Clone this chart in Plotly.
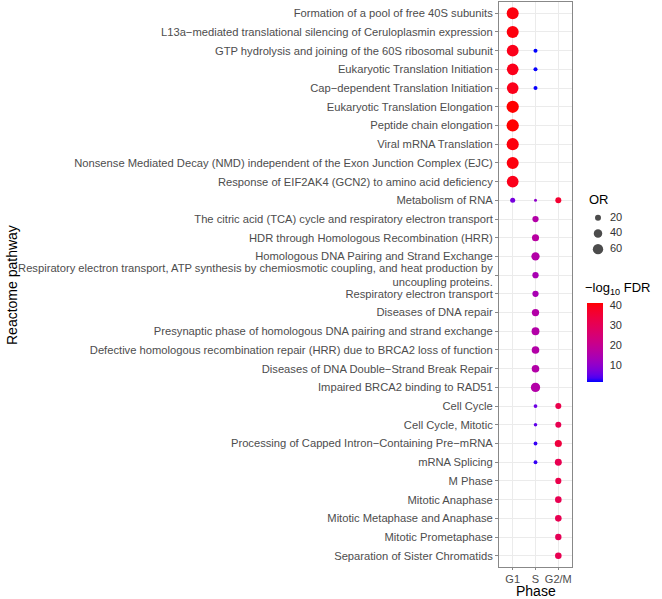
import numpy as np
import plotly.graph_objects as go

# ---------------- data ----------------
pathways = [
    "Formation of a pool of free 40S subunits",
    "L13a−mediated translational silencing of Ceruloplasmin expression",
    "GTP hydrolysis and joining of the 60S ribosomal subunit",
    "Eukaryotic Translation Initiation",
    "Cap−dependent Translation Initiation",
    "Eukaryotic Translation Elongation",
    "Peptide chain elongation",
    "Viral mRNA Translation",
    "Nonsense Mediated Decay (NMD) independent of the Exon Junction Complex (EJC)",
    "Response of EIF2AK4 (GCN2) to amino acid deficiency",
    "Metabolism of RNA",
    "The citric acid (TCA) cycle and respiratory electron transport",
    "HDR through Homologous Recombination (HRR)",
    "Homologous DNA Pairing and Strand Exchange",
    "Respiratory electron transport, ATP synthesis by chemiosmotic coupling, and heat production by<br>uncoupling proteins.",
    "Respiratory electron transport",
    "Diseases of DNA repair",
    "Presynaptic phase of homologous DNA pairing and strand exchange",
    "Defective homologous recombination repair (HRR) due to BRCA2 loss of function",
    "Diseases of DNA Double−Strand Break Repair",
    "Impaired BRCA2 binding to RAD51",
    "Cell Cycle",
    "Cell Cycle, Mitotic",
    "Processing of Capped Intron−Containing Pre−mRNA",
    "mRNA Splicing",
    "M Phase",
    "Mitotic Anaphase",
    "Mitotic Metaphase and Anaphase",
    "Mitotic Prometaphase",
    "Separation of Sister Chromatids",
]
phases = ["G1", "S", "G2/M"]

# one entry per dot
pt_pathway = [0, 1, 2, 3, 4, 5, 6, 7, 8, 9,
              2, 3, 4,
              10, 10, 10,
              11, 12, 13, 14, 15, 16, 17, 18, 19, 20,
              21, 22, 23, 24,
              21, 22, 23, 24,
              25, 26, 27, 28, 29]
pt_phase = ["G1"] * 10 + ["S"] * 3 + ["G1", "S", "G2/M"] + ["S"] * 10 + ["S"] * 4 + ["G2/M"] * 4 + ["G2/M"] * 5
pt_or = [80, 80, 78, 76, 76, 84, 84, 82, 80, 77,
         9, 9, 9,
         14, 5, 20,
         22, 28, 38, 22, 22, 30, 34, 32, 32, 48,
         8, 7, 8, 8,
         20, 20, 28, 27,
         21, 24, 24, 23, 24]
pt_fdr = [40, 40, 39, 39, 39, 41, 41, 40, 40, 39,
          1.6, 1.8, 1.8,
          7, 10, 36,
          16, 17, 16, 14, 14, 16, 16, 16, 16, 16,
          6, 5, 3, 3,
          32, 31, 34, 31,
          32, 31, 31, 30, 31]

or_breaks = [20, 40, 60]
fdr_ticks = [10, 20, 30, 40]


# ---------------- helpers: Lab gradient blue -> red (like ggplot) ----------------
def srgb_to_lab(rgb):
    c = np.array(rgb, dtype=float) / 255.0
    c = np.where(c <= 0.04045, c / 12.92, ((c + 0.055) / 1.055) ** 2.4)
    M = np.array([[0.4124564, 0.3575761, 0.1804375],
                  [0.2126729, 0.7151522, 0.0721750],
                  [0.0193339, 0.1191920, 0.9503041]])
    xyz = M @ c
    wp = np.array([0.95047, 1.0, 1.08883])
    t = xyz / wp
    f = np.where(t > (6 / 29) ** 3, np.cbrt(t), t / (3 * (6 / 29) ** 2) + 4 / 29)
    return np.array([116 * f[1] - 16, 500 * (f[0] - f[1]), 200 * (f[1] - f[2])])


def lab_to_srgb(lab):
    L, a, b = lab
    fy = (L + 16) / 116
    fx = fy + a / 500
    fz = fy - b / 200
    f = np.array([fx, fy, fz])
    t = np.where(f > 6 / 29, f ** 3, 3 * (6 / 29) ** 2 * (f - 4 / 29))
    xyz = t * np.array([0.95047, 1.0, 1.08883])
    Minv = np.array([[3.2404542, -1.5371385, -0.4985314],
                     [-0.9692660, 1.8760108, 0.0415560],
                     [0.0556434, -0.2040259, 1.0572252]])
    c = Minv @ xyz
    c = np.clip(c, 0, 1)
    c = np.where(c <= 0.0031308, 12.92 * c, 1.055 * c ** (1 / 2.4) - 0.055)
    c = np.clip(np.round(c * 255), 0, 255).astype(int)
    return "rgb(%d,%d,%d)" % tuple(c)


lab_lo = srgb_to_lab([0, 0, 255])
lab_hi = srgb_to_lab([255, 0, 0])
colorscale = []
for t in np.linspace(0, 1, 21):
    colorscale.append([float(t), lab_to_srgb(lab_lo + (lab_hi - lab_lo) * t)])


def or_to_px(v):
    return 1.34 * np.sqrt(np.asarray(v, dtype=float))


W, H = 662, 599
MT, MB = 2, 32
PLOT_H = H - MT - MB


def px_x(p):
    return p / W


def px_y(p):
    return (H - MB - p) / PLOT_H


FONT = "Liberation Sans, Arial, Helvetica, sans-serif"

fig = go.Figure()
fig.add_trace(go.Scatter(
    x=pt_phase,
    y=[pathways[i] for i in pt_pathway],
    mode="markers",
    marker=dict(
        size=or_to_px(pt_or),
        sizemode="diameter",
        color=pt_fdr,
        colorscale=colorscale,
        cmin=min(pt_fdr), cmax=max(pt_fdr),
        line=dict(width=0),
        opacity=1,
        colorbar=dict(
            xref="container", yref="container",
            x=587 / W, xanchor="left",
            y=1 - 405 / H, yanchor="bottom",
            lenmode="pixels", len=79,
            thickness=16, outlinewidth=0,
            tickvals=fdr_ticks,
            ticks="outside", ticklen=5, tickcolor="rgba(255,255,255,0)",
            tickfont=dict(family=FONT, size=11, color="#333"),
            xpad=0, ypad=0,
        ),
    ),
    showlegend=False,
    hoverinfo="skip",
    xaxis="x", yaxis="y",
))

# size legend (OR) drawn on its own small axes
fig.add_trace(go.Scatter(
    x=[0] * len(or_breaks), y=list(range(len(or_breaks))),
    mode="markers",
    marker=dict(size=or_to_px(or_breaks), color="black", sizemode="diameter", line=dict(width=0)),
    xaxis="x2", yaxis="y2", showlegend=False, hoverinfo="skip",
))
fig.add_trace(go.Scatter(
    x=[1] * len(or_breaks), y=list(range(len(or_breaks))),
    mode="text", text=[str(b) for b in or_breaks], textposition="middle right",
    textfont=dict(family=FONT, size=11, color="#333"),
    xaxis="x2", yaxis="y2", showlegend=False, hoverinfo="skip",
))

fig.update_layout(
    width=W, height=H,
    margin=dict(l=0, r=0, t=MT, b=MB, autoexpand=False),
    paper_bgcolor="white", plot_bgcolor="white",
    font=dict(family=FONT, color="#000"),
    showlegend=False,
    xaxis=dict(
        domain=[499 / W, 572 / W],
        type="category", categoryorder="array", categoryarray=phases,
        range=[-0.6, 2.6],
        showgrid=True, gridcolor="#EBEBEB", gridwidth=1,
        zeroline=False,
        showline=True, linecolor="#888", linewidth=1, mirror=True,
        ticks="outside", ticklen=2, tickcolor="#888",
        tickfont=dict(family=FONT, size=11, color="#4D4D4D"),
        automargin=False,
    ),
    yaxis=dict(
        type="category", categoryorder="array", categoryarray=pathways,
        range=[len(pathways) - 1 + 0.6, -0.6],
        showgrid=True, gridcolor="#EBEBEB", gridwidth=1,
        zeroline=False,
        showline=True, linecolor="#888", linewidth=1, mirror=True,
        ticks="outside", ticklen=3, tickcolor="#888",
        tickfont=dict(family=FONT, size=11.2, color="#4D4D4D"),
        anchor="x",
        automargin=False,
    ),
    xaxis2=dict(
        domain=[586 / W, 640 / W], range=[-1, 3.5],
        visible=False, anchor="y2", fixedrange=True,
    ),
    yaxis2=dict(
        domain=[px_y(257), px_y(210)], range=[2.5, -0.5],
        visible=False, anchor="x2", fixedrange=True,
    ),
    annotations=[
        dict(text="Reactome pathway", xref="paper", yref="paper",
             x=px_x(12), y=px_y(285), xanchor="center", yanchor="middle",
             textangle=-90, showarrow=False,
             font=dict(family=FONT, size=14, color="#000")),
        dict(text="Phase", xref="paper", yref="paper",
             x=px_x(536), y=px_y(591), xanchor="center", yanchor="middle",
             showarrow=False, font=dict(family=FONT, size=14, color="#000")),
        dict(text="OR", xref="paper", yref="paper",
             x=px_x(587), y=px_y(199), xanchor="left", yanchor="middle",
             showarrow=False, font=dict(family=FONT, size=13, color="#000")),
        dict(text="−log<sub>10</sub> FDR", xref="paper", yref="paper",
             x=px_x(583), y=px_y(288), xanchor="left", yanchor="middle",
             showarrow=False, font=dict(family=FONT, size=13, color="#000")),
    ],
)

fig.write_html("out.html")
